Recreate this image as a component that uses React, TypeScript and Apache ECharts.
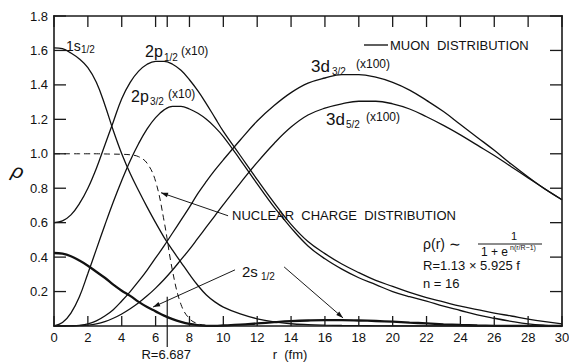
import React, { useEffect, useRef } from "react";
import * as echarts from "echarts";

// radius samples (fm)
const rValues = [
  0, 0.5, 1, 1.5, 2, 2.5, 3, 3.5, 4, 4.5, 5, 5.5, 6, 6.5, 7, 7.5, 8, 8.5, 9, 9.5, 10,
  11, 12, 13, 14, 15, 16, 17, 18, 19, 20, 21, 22, 23, 24, 25, 26, 27, 28, 29, 30,
];

const rho1s = [
  1.615, 1.61, 1.585, 1.55, 1.5, 1.415, 1.285, 1.135, 1.0, 0.885, 0.785, 0.69, 0.6, 0.515, 0.44, 0.37, 0.3, 0.235, 0.18, 0.14, 0.11,
  0.07, 0.042, 0.024, 0.013, 0.008, 0.005, 0.003, 0.002, 0.001, 0, 0, 0, 0, 0, 0, 0, 0, 0, 0, 0,
];

const rho2p12 = [
  0.6, 0.61, 0.645, 0.71, 0.8, 0.915, 1.05, 1.185, 1.32, 1.415, 1.48, 1.52, 1.537, 1.537, 1.52, 1.485, 1.43, 1.365, 1.29, 1.21, 1.13,
  0.99, 0.85, 0.715, 0.59, 0.49, 0.42, 0.36, 0.31, 0.265, 0.23, 0.195, 0.165, 0.14, 0.115, 0.095, 0.075, 0.058, 0.04, 0.025, 0.012,
];

const rho2p32 = [
  0, 0.02, 0.075, 0.17, 0.305, 0.445, 0.585, 0.72, 0.845, 0.96, 1.06, 1.145, 1.21, 1.255, 1.275, 1.275, 1.26, 1.235, 1.2, 1.155, 1.1,
  0.965, 0.825, 0.69, 0.57, 0.465, 0.39, 0.33, 0.28, 0.24, 0.2, 0.17, 0.145, 0.115, 0.09, 0.065, 0.045, 0.027, 0.012, 0.004, 0,
];

const rho3d32 = [
  0, 0, 0.001, 0.004, 0.012, 0.03, 0.058, 0.095, 0.145, 0.2, 0.26, 0.325, 0.395, 0.465, 0.54, 0.615, 0.69, 0.77, 0.84, 0.905, 0.965,
  1.08, 1.19, 1.28, 1.355, 1.41, 1.44, 1.46, 1.46, 1.445, 1.415, 1.37, 1.31, 1.245, 1.17, 1.095, 1.02, 0.94, 0.865, 0.795, 0.733,
];

const rho3d52 = [
  0, 0, 0, 0.002, 0.005, 0.012, 0.025, 0.045, 0.07, 0.1, 0.135, 0.175, 0.22, 0.27, 0.325, 0.385, 0.445, 0.51, 0.575, 0.64, 0.705,
  0.83, 0.95, 1.06, 1.155, 1.225, 1.265, 1.29, 1.305, 1.305, 1.29, 1.26, 1.215, 1.165, 1.11, 1.05, 0.99, 0.925, 0.86, 0.795, 0.733,
];

const rho2s = [
  0.424, 0.42, 0.405, 0.38, 0.35, 0.315, 0.28, 0.24, 0.205, 0.175, 0.14, 0.11, 0.085, 0.06, 0.04, 0.024, 0.012, 0.005, 0.001, 0.001, 0.003,
  0.008, 0.015, 0.022, 0.028, 0.032, 0.034, 0.034, 0.032, 0.029, 0.025, 0.02, 0.015, 0.01, 0.006, 0.003, 0.001, 0, 0, 0, 0,
];

// nuclear charge distribution (dashed), ends at r = 10
const rhoNuclear = [
  1, 1, 1, 1, 1, 1, 0.999, 0.998, 0.997, 0.994, 0.983, 0.945, 0.84, 0.61, 0.32, 0.125, 0.042, 0.013, 0.004, 0.001, 0,
];

const xTicks = { min: 0, max: 30, interval: 2 };
const yTicks = { min: 0, max: 1.8, interval: 0.2 };
const nuclearRadius = 6.687;

// annotation anchors in data coordinates [r, rho]
const nuclearLeader = { from: [10.28, 0.64], tip: [6.32, 0.774] };
const s2LeaderLeft = { from: [10.69, 0.326], tip: [5.85, 0.11] };
const s2LeaderRight = { from: [13.59, 0.343], tip: [17.07, 0.047] };

const INK = "#111";
const FONT = "Liberation Sans";

function pairs(vals: number[]) {
  return vals.map((v, i) => [rValues[i], v]);
}

function tickValues(t: { min: number; max: number; interval: number }) {
  const out: number[] = [];
  const n = Math.round((t.max - t.min) / t.interval);
  for (let i = 0; i <= n; i++) out.push(+(t.min + i * t.interval).toFixed(6));
  return out;
}

export default function App() {
  const ref = useRef<HTMLDivElement>(null);

  useEffect(() => {
    const el = ref.current!;
    const chart = echarts.init(el, null, { renderer: "svg" });

    const line = (name: string, vals: number[], width = 1.3, dashed = false) => ({
      name,
      type: "line",
      data: pairs(vals),
      showSymbol: false,
      symbol: "none",
      smooth: 0.4,
      lineStyle: { color: INK, width, type: dashed ? [6, 4] : "solid" },
      silent: true,
      z: 3,
    });

    chart.setOption({
      animation: false,
      backgroundColor: "#ffffff",
      grid: { left: 54, right: 7, top: 16, bottom: 36, outerBoundsMode: "none", containLabel: false },
      xAxis: {
        type: "value",
        ...xTicks,
        axisLine: { show: false },
        axisTick: { show: false },
        axisLabel: { color: INK, fontSize: 13, fontFamily: FONT, margin: 5 },
        splitLine: { show: false },
      },
      yAxis: {
        type: "value",
        ...yTicks,
        axisLine: { show: false },
        axisTick: { show: false },
        axisLabel: {
          color: INK,
          fontSize: 13,
          fontFamily: FONT,
          margin: 6,
          formatter: (v: number) => (v === 0 ? "" : v.toFixed(1)),
        },
        splitLine: { show: false },
      },
      series: [
        line("1s1/2", rho1s),
        line("2p1/2", rho2p12),
        line("2p3/2", rho2p32),
        line("3d3/2", rho3d32),
        line("3d5/2", rho3d52),
        line("2s1/2", rho2s, 2.3),
        line("nuclear", rhoNuclear, 1, true),
      ],
    });

    const P = (r: number, v: number) => chart.convertToPixel({ gridIndex: 0 }, [r, v]) as number[];

    const txt = (text: string, x: number, y: number, size: number, extra: any = {}) => ({
      type: "text",
      x,
      y,
      z: 10,
      style: {
        text,
        fill: INK,
        fontSize: size,
        fontFamily: FONT,
        textAlign: extra.align || "left",
        textVerticalAlign: "middle",
        align: extra.align || "left",
        verticalAlign: "middle",
        fontStyle: extra.italic ? "italic" : "normal",
      },
      rotation: extra.rotation || 0,
    });

    const seg = (a: number[], b: number[], w = 0.9) => ({
      type: "line",
      z: 10,
      shape: { x1: a[0], y1: a[1], x2: b[0], y2: b[1] },
      style: { stroke: "#000", lineWidth: w },
    });

    // filled bar (used for axis-aligned strokes: frame, ticks, markers)
    const bar = (x: number, y: number, w: number, h: number) => ({
      type: "rect",
      z: 11,
      shape: { x, y, width: w, height: h },
      style: { fill: "#1a1a1a", stroke: null },
    });

    const arrowHead = (tip: number[], from: number[], len = 7, half = 2.3) => {
      const dx = tip[0] - from[0];
      const dy = tip[1] - from[1];
      const L = Math.hypot(dx, dy);
      const ux = dx / L;
      const uy = dy / L;
      const bx = tip[0] - ux * len;
      const by = tip[1] - uy * len;
      return {
        type: "polygon",
        z: 10,
        shape: { points: [tip, [bx - uy * half, by + ux * half], [bx + uy * half, by - ux * half]] },
        style: { fill: INK },
      };
    };

    const leader = (l: { from: number[]; tip: number[] }) => {
      const a = P(l.from[0], l.from[1]);
      const t = P(l.tip[0], l.tip[1]);
      return [seg(a, t), arrowHead(t, a)];
    };

    const tl = P(xTicks.min, yTicks.max);
    const br = P(xTicks.max, yTicks.min);
    const fw = 1.6; // frame thickness
    const tw = 1.3; // tick thickness
    const frame: any[] = [
      bar(tl[0] - fw / 2, tl[1] - fw / 2, br[0] - tl[0] + fw, fw), // top
      bar(tl[0] - fw / 2, br[1] - fw / 2, br[0] - tl[0] + fw, fw), // bottom
      bar(tl[0] - fw / 2, tl[1] - fw / 2, fw, br[1] - tl[1] + fw), // left
      bar(br[0] - fw / 2, tl[1] - fw / 2, fw, br[1] - tl[1] + fw), // right
    ];
    tickValues(xTicks).forEach((r) => {
      const b = P(r, yTicks.min);
      const t = P(r, yTicks.max);
      frame.push(bar(b[0] - tw / 2, b[1] - 10, tw, 10));
      frame.push(bar(t[0] - tw / 2, t[1], tw, 11));
    });
    tickValues(yTicks).forEach((v) => {
      const l = P(xTicks.min, v);
      const rr = P(xTicks.max, v);
      frame.push(bar(l[0], l[1] - tw / 2, 12, tw));
      frame.push(bar(rr[0] - 12, rr[1] - tw / 2, 12, tw));
    });
    const rTop = P(nuclearRadius, yTicks.max);
    const rBase = P(nuclearRadius, 0);
    const rLow = P(nuclearRadius, 0.17);
    frame.push(bar(rTop[0] - tw / 2, rTop[1], tw, 11));
    frame.push(bar(rLow[0] - 0.6, rLow[1], 1.2, rBase[1] + 21 - rLow[1]));

    chart.setOption({
      graphic: [
        ...frame,
        txt("1s", 66, 46, 14),
        txt("1/2", 81, 49, 10),
        txt("2p", 145, 51, 16),
        txt("1/2", 164, 57, 10),
        txt("(x10)", 181, 51, 12),
        txt("2p", 131, 96, 16),
        txt("3/2", 150, 101, 10),
        txt("(x10)", 168, 94, 12),
        txt("3d", 311, 66, 17),
        txt("3/2", 332, 71, 10),
        txt("(x100)", 356, 64, 12),
        txt("3d", 326, 119, 17),
        txt("5/2", 346, 124, 10),
        txt("(x100)", 366, 117, 12),
        txt("2s", 242, 271, 15),
        txt("1/2", 261, 276, 10),
        bar(364, 44.3, 24, 1.4),
        txt("MUON  DISTRIBUTION", 390, 45, 13),
        txt("NUCLEAR  CHARGE  DISTRIBUTION", 232, 215, 13),
        txt("ρ(r) ∼", 423, 244, 14),
        txt("1", 511, 236, 11),
        bar(478, 243.5, 64, 1),
        txt("1 + e", 481, 252, 12),
        txt("n(r/R−1)", 510, 247, 7),
        txt("R=1.13 × 5.925 f", 423, 265, 13),
        txt("n = 16", 423, 283, 13),
        txt("r  (fm)", 290, 354, 13, { align: "center" }),
        txt("ρ", 18, 171, 20, { italic: true, rotation: -0.3, align: "center" }),
        txt("R=6.687", rBase[0] - 1, 354, 13, { align: "center" }),
        ...leader(nuclearLeader),
        ...leader(s2LeaderLeft),
        ...leader(s2LeaderRight),
      ],
    });

    return () => chart.dispose();
  }, []);

  return <div ref={ref} style={{ position: "fixed", left: 0, top: 0, width: 569, height: 362 }} />;
}
